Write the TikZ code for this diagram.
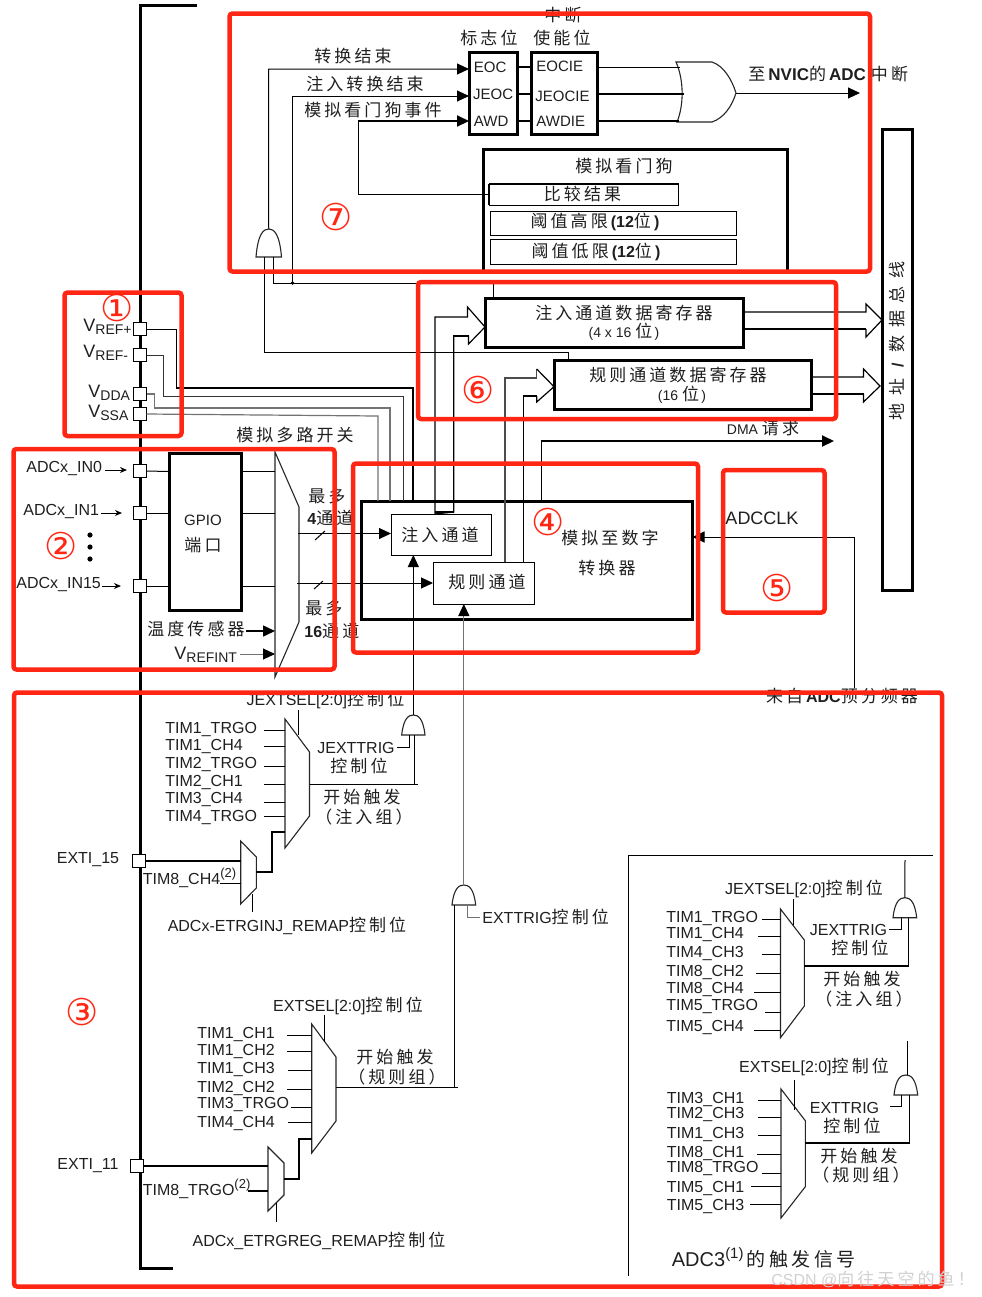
\documentclass[tikz,border=0pt]{standalone}
\usepackage{fontspec}
\setmainfont{Liberation Sans}
\newfontfamily\zhf[LetterSpace=18]{Noto Sans CJK SC}
\newfontfamily\zhw[LetterSpace=45]{Noto Sans CJK SC}
\newfontfamily\circf{DejaVu Sans}
\usetikzlibrary{arrows.meta}
\definecolor{redc}{RGB}{255,38,20}
\newcommand\zh[1]{{\fontsize{8.5}{10}\zhf #1}}
\newcommand\fsz[1]{\fontsize{#1}{#1}\selectfont}
\newcommand\subt[1]{\raisebox{-0.35ex}{\fsz{7}#1}}
\newcommand\supt[1]{\raisebox{0.75ex}{\fsz{6.5}#1}}
\newcommand\bx[6][]{\node[#1,minimum width={(#5-#3)*0.5pt},minimum height={(#6-#4)*0.5pt}] (#2) at ({(#3+#5)/2},{(#4+#6)/2}) {};}
\newcommand\mux[7]{\draw[muxs] (#2,#4) -- (#3,#5) -- (#3,#6) -- (#2,#7) -- cycle;
  \coordinate (#1-l) at (#2,#4); \coordinate (#1-r) at (#3,#4);}
\newcommand\agate[5]{\draw[muxs] (#2,#5) .. controls ({#2+0.08*(#3-#2)},{#4+0.15*(#5-#4)}) and ({#2+0.3*(#3-#2)},#4) .. ({(#2+#3)/2},#4)
   .. controls ({#3-0.3*(#3-#2)},#4) and ({#3-0.08*(#3-#2)},{#4+0.15*(#5-#4)}) .. (#3,#5) -- cycle;
  \coordinate (#1-t) at ({(#2+#3)/2},#4); \coordinate (#1-b) at ({(#2+#3)/2},#5);}
\tikzset{
  x=0.5pt,y=-0.5pt,
  wire/.style={line width=0.5pt,black},
  wirem/.style={line width=0.75pt,black},
  wirek/.style={line width=1pt,black},
  wireg/.style={line width=0.5pt,black!55},
  arr/.style={-{Triangle[length=6pt,width=5.5pt,black]}},
  arrs/.style={-{Stealth[length=3.5pt,width=3pt]}},
  muxs/.style={line width=0.55pt,black!85},
  hollow/.style={line width=0.6pt,black},
  thickbox/.style={draw=black,line width=1.5pt,inner sep=0pt,outer sep=0pt},
  thinbox/.style={draw=black,line width=0.5pt,inner sep=0pt,outer sep=0pt},
  pad/.style={draw=black,line width=0.6pt,fill=white,minimum size=6.5pt,inner sep=0pt,outer sep=0pt},
  txt/.style={inner sep=0pt,text=black!88,font=\fsz{8}},
  redbox/.style={draw=redc,line width=2.25pt,rounded corners=1.5pt,inner sep=0pt,outer sep=0pt},
  circno/.style={inner sep=0pt,text=redc,font=\fsz{18.5}\circf},
}
\begin{document}
\begin{tikzpicture}
\fill[white] (0,0) rectangle (981,1297);
\useasboundingbox (0,0) rectangle (981,1297);

% left bus
\draw[line width=1.5pt] (197,5) -- (140.5,5) -- (140.5,1268) -- (173,1268);
\foreach \n/\y in {vrefp/329,vrefm/355,vdda/394,vssa/414,inz/471,ino/513,inf/586}
  \node[pad] (\n) at (140,\y) {};
\node[pad] (extiA) at (139,861) {};
\node[pad] (extiB) at (137,1166) {};

% main boxes
\bx[thickbox]{gpio}{169}{453}{241}{610}
\bx[thickbox]{adc}{361}{501}{692.5}{619}
\bx[thinbox]{inch}{391}{514}{491.5}{555}
\bx[thinbox]{rch}{433}{562}{534}{604}
\bx[thickbox]{injreg}{485}{298}{743}{347}
\bx[thickbox]{regreg}{554}{360}{811}{409}
\bx[thickbox]{bus}{882}{129}{912}{590}
\bx[thickbox]{flag}{469}{52}{517}{134}
\bx[thickbox]{enab}{531.5}{52}{597}{134}
\bx[thickbox]{wd}{483}{149}{787}{272}
\bx[thinbox]{cmp}{489}{183.5}{678.5}{205}
\draw[line width=1pt] (cmp.north west) -- (cmp.north east);
\draw[line width=1pt] (cmp.north west) -- (cmp.south west);
\bx[thinbox]{thh}{490}{211}{736}{235}
\bx[thinbox]{thl}{490}{239}{736}{264}

% top wires
\agate{gA}{256}{281.5}{229}{257}
\draw[wire,arr] (gA-t) -- (268.5,69) -- (flag.west |- 0,69);
\draw[wire,arr] (292.5,283) -- (292.5,96) -- (flag.west |- 0,96);
\draw[wire] (cmp.west |- 0,194) -- (358,194) -- (358,121);
\draw[wirek,arr] (358,121) -- (flag.west |- 0,121);
\foreach \y in {67,94,121} \draw[wirem] (flag.east |- 0,\y) -- (enab.west |- 0,\y);
\draw[muxs] (676,62) -- (712,62) .. controls (724,66) and (732,80) .. (736,93) .. controls (732,106) and (724,118) .. (712,122) -- (677,122) .. controls (684,105) and (684,80) .. (676,62) -- cycle;
\coordinate (orout) at (736,93);
\coordinate (nvic) at (860,93);
\draw[wire] (enab.east |- 0,67) -- (680,67);
\draw[wirem] (enab.east |- 0,94) -- (684,94);
\draw[wirem] (enab.east |- 0,121) -- (679,121);
\draw[wire,arr] (orout) -- (nvic);
\draw[wire] (264,257) -- (264,352) -- (568,352) -- (568,0 |- regreg.north);
\draw[wire] (273.5,257) -- (273.5,283) -- (493.5,283) -- (493.5,0 |- injreg.north);
\fill (292.5,283) circle (1.8);

% supply wires
\draw[wire] (vrefp.east) -| (176,388);
\draw[wirem] (176,388) -| (413,0 |- adc.north);
\draw[wire,black!80] (vrefm.east) -| (163,396) -| (403,0 |- adc.north);
\draw[wireg,line width=.6pt] (vdda.east) -| (154.5,408) -| (390,0 |- adc.north);
\draw[wireg,line width=.6pt] (vssa.east) -- (378,416) -- (378,0 |- adc.north);

% analog mux and inputs
\mux{mA}{275}{299}{452}{507}{622}{677}
\foreach \n/\y in {inz/471.5,ino/513,inf/586} {
  \draw[wire] (\n.east) -- (gpio.west |- 0,\y);
  \draw[wire] (gpio.east |- 0,\y) -- (mA-l |- 0,\y);
}
\draw[wire,arrs] (105,470) -- (127,470);
\draw[wire,arrs] (101,513) -- (122,513);
\draw[wire,arrs] (102,586) -- (121,586);
\foreach \y in {535,547,559} \fill (90,\y) circle (2.6);
\draw[wirem,arr] (246,631) -- (mA-l |- 0,631);
\draw[wireg,arr] (240,654) -- (mA-l |- 0,654);
\draw[wire,arr] (298,533.5) -- (inch.west |- 0,533.5);
\draw[wire,arr] (297,583) -- (rch.west |- 0,583);
\draw[wire] (315,540) -- (325,531);
\draw[wire] (314,589) -- (323,581);

% hollow arrows
\draw[hollow] (435,0 |- inch.north) -- (435,317) -- (467.5,317) -- (467.5,307) -- (injreg.west |- 0,327) -- (468.5,344) -- (468.5,336) -- (453.7,336) -- (453.7,512) -- cycle;
\draw[wirem] (468.5,336) -- (453.7,336) -- (453.7,512) -- (435,512);
\draw[hollow,black!70] (505,0 |- rch.north) -- (505,378) -- (536.7,378) -- (536.7,369);
\draw[hollow] (536.7,369) -- (regreg.west |- 0,386.7) -- (536.7,402) -- (536.7,396);
\draw[wirem] (536.7,396) -- (523.4,396) -- (523.4,0 |- rch.north);
\draw[hollow] (injreg.east |- 0,312) -- (866,312) -- (866,304) -- (bus.west |- 0,320) -- (866,337) -- (866,329);
\draw[wirek] (866,329) -- (injreg.east |- 0,329);
\draw[hollow] (regreg.east |- 0,377) -- (863.5,377) -- (863.5,369) -- (880,386) -- (863.5,402) -- (863.5,394);
\draw[wirek] (863.5,394) -- (regreg.east |- 0,394);

% DMA, clock
\coordinate (dmaend) at (834,441);
\draw[wire] (541,0 |- adc.north) -- (541,441);
\draw[wirek,arr] (541,441) -- (dmaend);
\coordinate (clkdiv) at (854.5,688);
\draw[wire,arr] (clkdiv) -- (854.5,537) -- (adc.east |- 0,537);

% JEXT group
\mux{mB}{285}{309.5}{719}{752}{816}{848}
\foreach \a/\y in {264/730.5,264/746.5,264/766,264/784.5,264/802.5,264/816}
  \draw[wire] (\a,\y) -- (mB-l |- 0,\y);
\draw[wire] (298,710) -- (298,735);
\agate{gB}{401.7}{425}{715}{735}
\draw[wire,arr] (gB-t) -- (gB-t |- inch.south);
\draw[wire] (mB-r |- 0,784) -- (417.7,784);
\draw[wire] (414.3,784) -- (414.3,735);
\draw[wire] (409,735) -- (409,747) -- (397,747);
\mux{mC}{240.7}{256.3}{841}{857}{888}{904}
\draw[wirek] (extiA.east) -- (mC-l |- extiA.east);
\draw[wire] (220,883) -- (mC-l |- 0,883);
\draw[wirek] (mC-r |- 0,872) -- (271.7,872) -- (271.7,832) -- (mB-l |- 0,832);
\draw[wire] (252.3,894) -- (252.3,912);

% EXT group
\mux{mD}{311.7}{336}{1024}{1057}{1121}{1153}
\foreach \a/\y in {287/1035.3,287/1051.7,288/1070.3,287/1089.3,291/1107.7,288/1122}
  \draw[wire] (\a,\y) -- (mD-l |- 0,\y);
\draw[wire] (324.3,1015) -- (324.3,1042);
\agate{gC}{452}{475.7}{885}{905}
\draw[wireg,arr] (gC-t) -- (gC-t |- rch.south);
\draw[wire] (mD-r |- 0,1087.7) -- (458,1087.7);
\draw[wire] (454.3,1087.7) -- (454.3,905);
\draw[wireg] (467,905) -- (467,917) -- (480,917);
\mux{mE}{268}{284}{1147}{1163}{1195}{1211}
\draw[wirek] (extiB.east) -- (mE-l |- extiB.east);
\draw[wirek] (248,1190.7) -- (mE-l |- 0,1190.7);
\draw[wirek] (mE-r |- 0,1178.7) -- (299.3,1178.7) -- (299.3,1139) -- (mD-l |- 0,1139);
\draw[wire] (276.3,1203) -- (276.3,1222);

% ADC3 panel
\draw[wire] (933,855.5) -- (628,855.5) -- (628,1276);
\mux{mF}{780.5}{804.3}{909}{940}{1006}{1037.7}
\foreach \a/\y in {761.7/919,758/936,761.7/954,756/973.7,754/992,765/1012.7,754/1030.7}
  \draw[wire] (\a,\y) -- (mF-l |- 0,\y);
\draw[wire] (793,899) -- (793,925);
\agate{gD}{893}{916.7}{897.7}{917.7}
\draw[wire] (905,860) -- (gD-t);
\draw[wirem] (mF-r |- 0,966) -- (909,966);
\draw[wire] (908,966) -- (908,917.7);
\draw[wire] (901.7,917.7) -- (901.7,929) -- (889,929);
\mux{mG}{781}{805.3}{1089}{1120.7}{1186.7}{1218}
\foreach \a/\y in {758/1100,758/1117,758/1135.7,757/1154,761.7/1173,751/1186.7,750/1204.7}
  \draw[wire] (\a,\y) -- (mG-l |- 0,\y);
\draw[wire] (794.3,1080) -- (794.3,1110);
\agate{gE}{894}{917.7}{1075}{1095}
\draw[wire] (907,1041) -- (907,1075);
\draw[wirek] (mG-r |- 0,1142.7) -- (910,1142.7);
\draw[wirem] (909.3,1142.7) -- (909.3,1095);
\draw[wire] (901.7,1095) -- (901.7,1106.7) -- (890,1106.7);

% top texts
\node[txt] (tzd) at (563,15) {\zh{中断}};
\node[txt] (tbz) at (489,38) {\zh{标志位}};
\node[txt] (tsn) at (562,38) {\zh{使能位}};
\node[txt] (tzh) at (353,56) {\zh{转换结束}};
\node[txt] (tzr) at (365,84) {\zh{注入转换结束}};
\node[txt] (tmn) at (373,110) {\zh{模拟看门狗事件}};
\node[txt,anchor=west,font=\fsz{7.5}] (teoc) at (473.5,67) {EOC};
\node[txt,anchor=west,font=\fsz{7.5}] (tjeoc) at (472.7,94) {JEOC};
\node[txt,anchor=west,font=\fsz{7.5}] (tawd) at (473.5,121) {AWD};
\node[txt,anchor=west,font=\fsz{7.5}] (teocie) at (536,66) {EOCIE};
\node[txt,anchor=west,font=\fsz{7.5}] (tjeocie) at (535,96) {JEOCIE};
\node[txt,anchor=west,font=\fsz{7.5}] (tawdie) at (536,121) {AWDIE};
\node[txt,anchor=west,font=\fsz{8.5}] (tnvic) at (748,74) {\zh{至}\textbf{NVIC}\zh{的}\textbf{ADC}\hspace{2.5pt}\zh{中断}};
\node[txt] (twd) at (624,166) {\zh{模拟看门狗}};
\node[txt] (tcmp) at (582.5,194) {\zh{比较结果}};
\node[txt] (tthh) at (595,222) {\zh{阈值高限}\textbf{(12}\zh{位}\textbf{)}};
\node[txt] (tthl) at (596,252) {\zh{阈值低限}\textbf{(12}\zh{位}\textbf{)}};
\node[txt,rotate=90] (tbus) at (897,341) {{\fsz{8.5}\zhw 地址}\hspace{2pt}\textbf{/}\hspace{5pt}{\fsz{8.5}\zhw 数据总线}};
\node[txt] (tinj) at (624,313) {\zh{注入通道数据寄存器}};
\node[txt] (tinj2) at (624,332) {\fsz{7}(4 x 16 \zh{位}\,)};
\node[txt] (treg) at (678,375) {\zh{规则通道数据寄存器}};
\node[txt] (treg2) at (682,395) {\fsz{7}(16 \zh{位}\,)};
\node[txt] (tdma) at (763,428) {\fsz{7}DMA \zh{请求}};
\node[txt] (tclk) at (762,518) {\fsz{9}ADCCLK};
\node[txt] (tcvt) at (610,538) {\zh{模拟至数字}};
\node[txt] (tcvt2) at (607,568) {\zh{转换器}};
\node[txt] (tinch) at (440,535) {\zh{注入通道}};
\node[txt] (trch) at (487,582) {\zh{规则通道}};
\node[txt] (tpre) at (842,696) {\zh{来自}\textbf{ADC}\zh{预分频器}};

% left texts
\node[txt,anchor=west] (tv1) at (83,327) {\fsz{9}V\subt{REF+}};
\node[txt,anchor=west] (tv2) at (83,353) {\fsz{9}V\subt{REF-}};
\node[txt,anchor=west] (tv3) at (88,393) {\fsz{9}V\subt{DDA}};
\node[txt,anchor=west] (tv4) at (88,413) {\fsz{9}V\subt{SSA}};
\node[txt,anchor=west] (tin0) at (26,468) {ADCx\_IN0};
\node[txt,anchor=west] (tin1) at (23,511) {ADCx\_IN1};
\node[txt,anchor=west] (tin15) at (16,584) {ADCx\_IN15};
\node[txt] (tgp) at (203,520) {\fsz{7.5}GPIO};
\node[txt] (tgp2) at (203,545) {\zh{端口}};
\node[txt] (tmx) at (295,435) {\zh{模拟多路开关}};
\node[txt] (ttemp) at (196,629) {\zh{温度传感器}};
\node[txt,anchor=west] (tvr) at (174,655) {\fsz{9}V\subt{REFINT}};
\node[txt,anchor=west] (tm1) at (308,496) {\zh{最多}};
\node[txt,anchor=west] (tm2) at (307,518) {\textbf{4}\zh{通道}};
\node[txt,anchor=west] (tm3) at (305,608) {\zh{最多}};
\node[txt,anchor=west] (tm4) at (304,631) {\textbf{16}\zh{通道}};

% JEXT texts
\node[txt] (tjs) at (325.5,700) {JEXTSEL[2:0]\zh{控制位}};
\foreach \i/\t/\y in {a/TIM1\_TRGO/729,b/TIM1\_CH4/746,c/TIM2\_TRGO/764,d/TIM2\_CH1/782,e/TIM3\_CH4/799,f/TIM4\_TRGO/817}
  \node[txt,anchor=west] (la\i) at (165,\y) {\t};
\node[txt] (tjt) at (356,748) {JEXTTRIG};
\node[txt] (tjc) at (359,766) {\zh{控制位}};
\node[txt] (tks) at (362,797) {\zh{开始触发}};
\node[txt] (tzg) at (364,817) {\zh{（注入组）}};
\node[txt] (te15) at (88,860) {EXTI\_15};
\node[txt,anchor=west] (tt8) at (142.5,878) {TIM8\_CH4\supt{(2)}};
\node[txt] (trm) at (287,926) {ADCx-ETRGINJ\_REMAP\zh{控制位}};
\node[txt,anchor=west] (tet) at (482,917) {EXTTRIG\zh{控制位}};

% EXT texts
\node[txt] (tes) at (348,1006) {EXTSEL[2:0]\zh{控制位}};
\foreach \i/\t/\y in {a/TIM1\_CH1/1034,b/TIM1\_CH2/1051,c/TIM1\_CH3/1069,d/TIM2\_CH2/1088,e/TIM3\_TRGO/1104,f/TIM4\_CH4/1123}
  \node[txt,anchor=west] (lb\i) at (197,\y) {\t};
\node[txt] (tks2) at (395,1057) {\zh{开始触发}};
\node[txt] (tzg2) at (397,1077) {\zh{（规则组）}};
\node[txt] (te11) at (88,1166) {EXTI\_11};
\node[txt,anchor=west] (tt8b) at (142.5,1189) {TIM8\_TRGO\supt{(2)}};
\node[txt] (trm2) at (319,1241) {ADCx\_ETRGREG\_REMAP\zh{控制位}};

% ADC3 texts
\node[txt] (t3js) at (804,889) {JEXTSEL[2:0]\zh{控制位}};
\foreach \i/\t/\y in {a/TIM1\_TRGO/918,b/TIM1\_CH4/934,c/TIM4\_CH3/953.7,d/TIM8\_CH2/972,e/TIM8\_CH4/989,f/TIM5\_TRGO/1006.7,g/TIM5\_CH4/1027}
  \node[txt,anchor=west] (lc\i) at (666,\y) {\t};
\node[txt] (t3jt) at (848.5,930) {JEXTTRIG};
\node[txt] (t3jc) at (860,948) {\zh{控制位}};
\node[txt] (t3ks) at (862,979) {\zh{开始触发}};
\node[txt] (t3zg) at (864,999) {\zh{（注入组）}};
\node[txt] (t3es) at (814,1067) {EXTSEL[2:0]\zh{控制位}};
\foreach \i/\t/\y in {a/TIM3\_CH1/1099,b/TIM2\_CH3/1114.7,c/TIM1\_CH3/1134,d/TIM8\_CH1/1153,e/TIM8\_TRGO/1168.7,f/TIM5\_CH1/1188,g/TIM5\_CH3/1206}
  \node[txt,anchor=west] (ld\i) at (666.5,\y) {\t};
\node[txt] (t3et) at (844.5,1108) {EXTTRIG};
\node[txt] (t3ec) at (852,1126) {\zh{控制位}};
\node[txt] (t3ks2) at (859,1156) {\zh{开始触发}};
\node[txt] (t3zg2) at (861,1175) {\zh{（规则组）}};
\node[txt,anchor=west] (tadc3) at (671.5,1258) {\fsz{10}ADC3\supt{\fsz{7.5}(1)}\,{\fsz{9.5}\zhf 的触发信号}};

% red frames
\bx[redbox]{rA}{64.5}{292.5}{181.5}{436}
\bx[redbox]{rB}{13.5}{449}{334.5}{669.5}
\bx[redbox]{rC}{14}{692.5}{942}{1286.5}
\bx[redbox]{rD}{353}{463.5}{698}{652.5}
\bx[redbox]{rE}{723}{470}{824.5}{612.5}
\bx[redbox]{rF}{418}{282}{836}{419}
\bx[redbox]{rG}{229.5}{13.5}{870}{271.5}
\node[circno] (cA) at (117,308) {①};
\node[circno] (cB) at (61,546) {②};
\node[circno] (cC) at (81.7,1012) {③};
\node[circno] (cD) at (548,522) {④};
\node[circno] (cE) at (777,588) {⑤};
\node[circno] (cF) at (478,390) {⑥};
\node[circno] (cG) at (336,217) {⑦};
\node[txt,text=black!18] (wm) at (873,1279) {\fsz{8}CSDN @{\fsz{8.5}\zhf 向往天空的鱼！}};
\end{tikzpicture}
\end{document}
